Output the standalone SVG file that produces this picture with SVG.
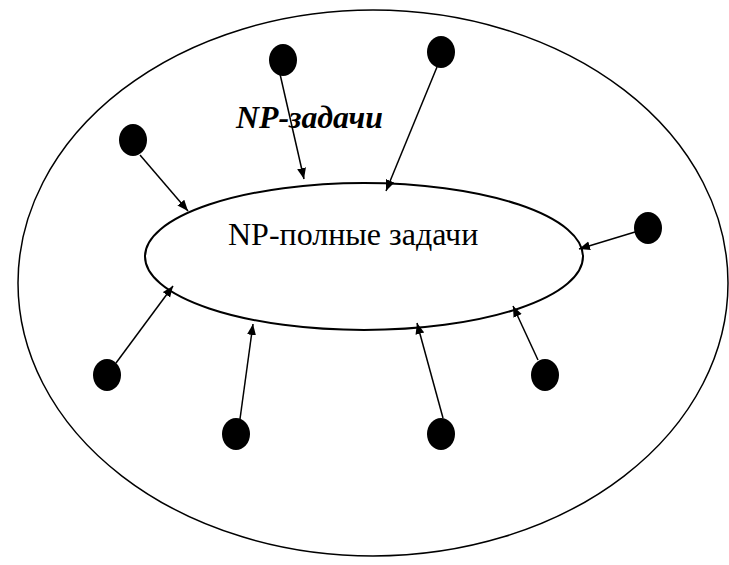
<svg xmlns="http://www.w3.org/2000/svg" width="729" height="565" viewBox="0 0 729 565">
<style>
.outer{fill:none;stroke:#000;stroke-width:1.5}
.inner{fill:#fff;stroke:#000;stroke-width:2}
.dot{fill:#000}
.conn{stroke:#000;stroke-width:1.5;fill:none;marker-end:url(#ah)}
.t1{font-family:"Liberation Serif","Times New Roman",serif;font-size:32px;fill:#000}
.t2{font-family:"Liberation Serif","Times New Roman",serif;font-size:31px;font-weight:bold;font-style:italic;fill:#000}
</style>
<defs>
<marker id="ah" markerUnits="userSpaceOnUse" markerWidth="12" markerHeight="10" refX="11" refY="4.5" orient="auto">
<path d="M0,0 L11,4.5 L0,9 Z" fill="#000"/>
</marker>
</defs>
<rect width="729" height="565" fill="#fff"/>
<g id="np">
<ellipse class="outer" cx="373" cy="283" rx="355" ry="273"/>
<text class="t2" x="236" y="128" textLength="147" lengthAdjust="spacingAndGlyphs">NP-задачи</text>
</g>
<g id="npc">
<ellipse class="inner" cx="364" cy="256.5" rx="219" ry="73.5"/>
<text class="t1" x="228" y="245">NP-полные задачи</text>
</g>
<g id="connectors">
<line class="conn" x1="280" y1="74" x2="304" y2="179"/>
<line class="conn" x1="437" y1="67" x2="386" y2="191"/>
<line class="conn" x1="140" y1="155" x2="188" y2="211"/>
<line class="conn" x1="635" y1="232" x2="579" y2="249"/>
<line class="conn" x1="116" y1="363" x2="173" y2="286"/>
<line class="conn" x1="240" y1="419" x2="253" y2="324"/>
<line class="conn" x1="443" y1="418" x2="417" y2="323"/>
<line class="conn" x1="538" y1="360" x2="513" y2="306"/>
</g>
<g id="d1"><ellipse class="dot" cx="283" cy="60" rx="14" ry="16"/></g>
<g id="d2"><ellipse class="dot" cx="441" cy="52" rx="14" ry="16"/></g>
<g id="d3"><ellipse class="dot" cx="133" cy="140" rx="14" ry="16"/></g>
<g id="d4"><ellipse class="dot" cx="648" cy="228" rx="14" ry="16"/></g>
<g id="d5"><ellipse class="dot" cx="107" cy="375" rx="14" ry="16"/></g>
<g id="d6"><ellipse class="dot" cx="236" cy="434" rx="14" ry="16"/></g>
<g id="d7"><ellipse class="dot" cx="441" cy="434" rx="14" ry="16"/></g>
<g id="d8"><ellipse class="dot" cx="545" cy="375" rx="14" ry="16"/></g>
</svg>
